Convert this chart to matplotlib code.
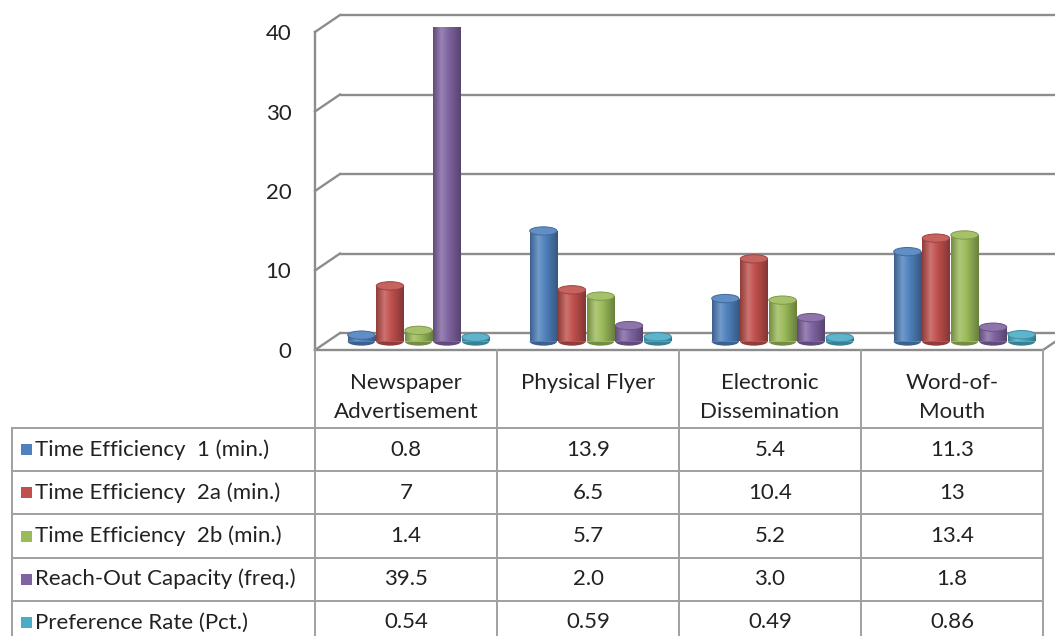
import matplotlib
matplotlib.use('Agg')
import matplotlib.pyplot as plt
import matplotlib.transforms as mtrans
from matplotlib.patches import Ellipse, Rectangle
from matplotlib.colors import to_rgb, LinearSegmentedColormap
from matplotlib.lines import Line2D
import numpy as np

plt.rcParams['font.family'] = ['Lato', 'DejaVu Sans']

# ---------------- data ----------------
category_lines = [["Newspaper", "Advertisement"], ["Physical Flyer"],
                  ["Electronic", "Dissemination"], ["Word-of-", "Mouth"]]
series_names = ["Time Efficiency  1 (min.)", "Time Efficiency  2a (min.)",
                "Time Efficiency  2b (min.)", "Reach-Out Capacity (freq.)",
                "Preference Rate (Pct.)"]
time_eff_1 = [0.8, 13.9, 5.4, 11.3]
time_eff_2a = [7, 6.5, 10.4, 13]
time_eff_2b = [1.4, 5.7, 5.2, 13.4]
reach_out = [39.5, 2.0, 3.0, 1.8]
preference = [0.54, 0.59, 0.49, 0.86]
table_text = [["0.8", "13.9", "5.4", "11.3"],
              ["7", "6.5", "10.4", "13"],
              ["1.4", "5.7", "5.2", "13.4"],
              ["39.5", "2.0", "3.0", "1.8"],
              ["0.54", "0.59", "0.49", "0.86"]]
yticks = [0, 10, 20, 30, 40]

series = [time_eff_1, time_eff_2a, time_eff_2b, reach_out, preference]
colors = ["#4F81BD", "#C0504D", "#9BBB59", "#8064A2", "#4BACC6"]

# ---------------- layout ----------------
W, H = 1055, 636
fig = plt.figure(figsize=(W / 100, H / 100), dpi=100)
ax_l, ax_r, ax_b, ax_t = 315, 1043, 350, 32
ax = fig.add_axes([ax_l / W, 1 - ax_b / H, (ax_r - ax_l) / W, (ax_b - ax_t) / H])
ax.set_xlim(-0.5, 3.5)
ax.set_ylim(0, 40)
for s in ax.spines.values():
    s.set_visible(False)
ax.set_xticks([])
ax.set_yticks(yticks)
ax.set_yticklabels([str(t) for t in yticks])
ax.tick_params(axis='y', length=0, pad=17, labelsize=16, labelcolor='#222222')
ax.patch.set_alpha(0)

DX, DY = 25, 17  # depth in pixels
back = ax.transData + mtrans.ScaledTranslation(DX / 100, DY / 100, fig.dpi_scale_trans)
mid = ax.transData + mtrans.ScaledTranslation(DX / 200, DY / 200, fig.dpi_scale_trans)

grid_c = '#8c8c8c'
grid_lw = 1.7

def front_to_back(x, y):
    return ax.transData.transform((x, y)), back.transform((x, y))

inv = fig.transFigure.inverted()
def seg_fig(p0, p1, **kw):
    a = inv.transform(p0)
    b = inv.transform(p1)
    fig.add_artist(Line2D([a[0], b[0]], [a[1], b[1]], transform=fig.transFigure, **kw))

# back wall grid lines + side wall diagonals
for t in yticks:
    ax.plot([-0.5, 3.6], [t, t], transform=back, color=grid_c, lw=grid_lw,
            clip_on=False, zorder=1, solid_capstyle='butt')
    p0, p1 = front_to_back(-0.5, t)
    seg_fig(p0, p1, color=grid_c, lw=grid_lw, zorder=1)
# front left edge and floor front edge
ax.plot([-0.5, -0.5], [0, 40], color=grid_c, lw=grid_lw, clip_on=False, zorder=1)
ax.plot([-0.5, 3.5], [0, 0], color=grid_c, lw=grid_lw, clip_on=False, zorder=1)
p0, p1 = front_to_back(3.5, 0)
seg_fig(p0, p1, color=grid_c, lw=grid_lw, zorder=1)

# ---------------- cylinders ----------------
n = len(series)
step = 0.157
width = 0.15
ell_h = 1.05
grad = np.linspace(0, 1, 64).reshape(1, -1)

def shade(c, f):
    r = np.array(to_rgb(c))
    return tuple(np.clip(r * f, 0, 1))

def tint(c, f):
    r = np.array(to_rgb(c))
    return tuple(r + (1 - r) * f)

for i, (vals, col) in enumerate(zip(series, colors)):
    cmap = LinearSegmentedColormap.from_list(
        'c%d' % i, [(0, shade(col, 0.75)), (0.3, tint(col, 0.2)),
                    (0.55, col), (1, shade(col, 0.68))])
    xs = np.arange(len(vals)) + (i - (n - 1) / 2) * step
    for x, v in zip(xs, vals):
        ax.add_patch(Ellipse((x, 0), width, ell_h, transform=mid,
                             facecolor=shade(col, 0.75), edgecolor='none', zorder=3))
    bars = ax.bar(xs, vals, width=width, color=col, transform=mid, zorder=4,
                  linewidth=0)
    for b, x, v in zip(bars, xs, vals):
        im = ax.imshow(grad, cmap=cmap, extent=(x - width / 2, x + width / 2, 0, v),
                       transform=mid, aspect='auto', zorder=4.5, interpolation='bilinear')
        im.set_clip_path(b)
        ax.add_patch(Ellipse((x, v), width, ell_h, transform=mid,
                             facecolor=tint(col, 0.1), edgecolor=shade(col, 0.82),
                             linewidth=0.7, zorder=5))
ax.set_xlim(-0.5, 3.5)
ax.set_ylim(0, 40)

# ---------------- data table ----------------
tab_c = '#a0a0a0'
tab_lw = 1.4
xblend = mtrans.blended_transform_factory(ax.transData, fig.transFigure)
def fy(ypx):
    return 1 - ypx / H

table_top = 428
row_h = 43.2
left_px = 12
n_rows = len(series_names)
bottom_px = table_top + row_h * n_rows

for xb in np.arange(len(category_lines) + 1) - 0.5:
    fig.add_artist(Line2D([xb, xb], [fy(ax_b), fy(bottom_px)], transform=xblend,
                          color=tab_c, lw=tab_lw))
fig.add_artist(Line2D([left_px / W, left_px / W], [fy(table_top), fy(bottom_px)],
                      transform=fig.transFigure, color=tab_c, lw=tab_lw))
for r in range(n_rows + 1):
    y = fy(table_top + r * row_h)
    fig.add_artist(Line2D([left_px / W, ax_r / W], [y, y], transform=fig.transFigure,
                          color=tab_c, lw=tab_lw))

txt_kw = dict(fontsize=16, color='#222222')
for ci, lines in enumerate(category_lines):
    for li, s in enumerate(lines):
        fig.text(ci, fy(383 + li * 29), s, transform=xblend, ha='center', va='center', **txt_kw)
for r, (name, col) in enumerate(zip(series_names, colors)):
    yc = table_top + (r + 0.5) * row_h
    fig.add_artist(Rectangle((21 / W, fy(yc + 5.5)), 11 / W, 11 / H,
                             transform=fig.transFigure, facecolor=col, edgecolor='none'))
    fig.text(35 / W, fy(yc), name, ha='left', va='center', **txt_kw)
    for ci, s in enumerate(table_text[r]):
        fig.text(ci, fy(yc), s, transform=xblend, ha='center', va='center', **txt_kw)

fig.savefig('out.png', dpi=100, facecolor='white')
